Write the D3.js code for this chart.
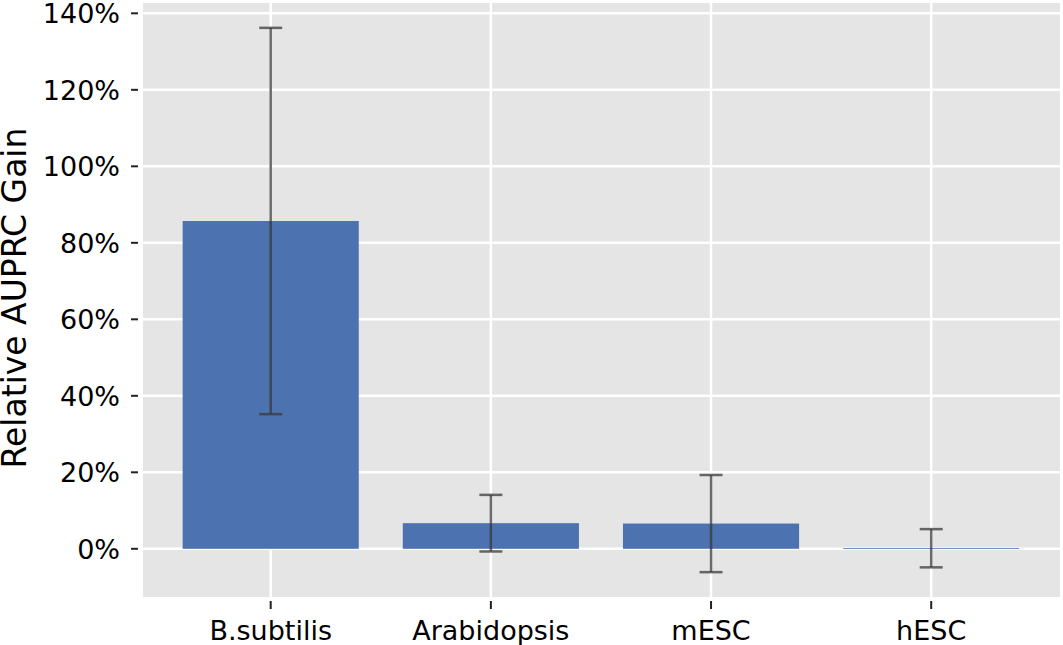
<!DOCTYPE html>
<html>
<head>
<meta charset="utf-8">
<script src="https://cdn.jsdelivr.net/npm/d3@7"></script>
<style>
  html, body { margin: 0; padding: 0; background: #ffffff; }
  svg { display: block; font-family: "DejaVu Sans", sans-serif; }
</style>
</head>
<body>
<svg id="chart" width="1063" height="645"></svg>
<script>
const categories = ["B.subtilis", "Arabidopsis", "mESC", "hESC"];
const gains = [85.7, 6.7, 6.6, 0.15];
const errors = [50.5, 7.4, 12.7, 5.0];
const yTicks = [0, 20, 40, 60, 80, 100, 120, 140];
const yLabel = "Relative AUPRC Gain";

const svg = d3.select("#chart");
const plot = { left: 143, right: 1060, top: 3, bottom: 597 };

const x = d3.scaleLinear().domain([-0.58, 3.585]).range([plot.left, plot.right]);
const y = d3.scaleLinear().domain([-12.6, 142.7]).range([plot.bottom, plot.top]);
const barW = x(0.8) - x(0);

// background
svg.append("rect")
  .attr("x", plot.left).attr("y", plot.top)
  .attr("width", plot.right - plot.left).attr("height", plot.bottom - plot.top)
  .attr("fill", "#e5e5e5");

// grid
const grid = svg.append("g");
grid.selectAll("line.h").data(yTicks).join("line")
  .attr("x1", plot.left).attr("x2", plot.right)
  .attr("y1", d => y(d)).attr("y2", d => y(d))
  .attr("stroke", "#ffffff").attr("stroke-width", 2.5);
grid.selectAll("line.v").data(categories).join("line")
  .attr("x1", (d, i) => x(i)).attr("x2", (d, i) => x(i))
  .attr("y1", plot.top).attr("y2", plot.bottom)
  .attr("stroke", "#ffffff").attr("stroke-width", 2.5);

// bars
svg.append("g").selectAll("rect").data(gains).join("rect")
  .attr("x", (d, i) => x(i) - barW / 2)
  .attr("width", barW)
  .attr("y", d => Math.min(y(d), y(0)))
  .attr("height", d => Math.max(Math.abs(y(0) - y(d)), 0.8))
  .attr("fill", "#4c72b0");

// error bars
const eb = svg.append("g").attr("stroke", "#3a3a3a").attr("stroke-opacity", 0.75).attr("stroke-width", 2.5);
gains.forEach((g, i) => {
  const cx = x(i), top = y(g + errors[i]), bot = y(g - errors[i]);
  eb.append("line").attr("x1", cx).attr("x2", cx).attr("y1", top).attr("y2", bot);
  eb.append("line").attr("x1", cx - 11.5).attr("x2", cx + 11.5).attr("y1", top).attr("y2", top);
  eb.append("line").attr("x1", cx - 11.5).attr("x2", cx + 11.5).attr("y1", bot).attr("y2", bot);
});

// y axis ticks & labels
const yAxis = svg.append("g");
yAxis.selectAll("line").data(yTicks).join("line")
  .attr("x1", 131).attr("x2", 138)
  .attr("y1", d => y(d)).attr("y2", d => y(d))
  .attr("stroke", "#222").attr("stroke-width", 2);
yAxis.selectAll("text").data(yTicks).join("text")
  .attr("x", 120).attr("y", d => y(d)).attr("dy", "0.36em")
  .attr("text-anchor", "end").attr("font-size", 27).attr("fill", "#000")
  .text(d => d + "%");

// x axis ticks & labels
const xAxis = svg.append("g");
xAxis.selectAll("line").data(categories).join("line")
  .attr("x1", (d, i) => x(i)).attr("x2", (d, i) => x(i))
  .attr("y1", 601).attr("y2", 609)
  .attr("stroke", "#222").attr("stroke-width", 2);
xAxis.selectAll("text").data(categories).join("text")
  .attr("x", (d, i) => x(i)).attr("y", 640)
  .attr("text-anchor", "middle").attr("font-size", 27).attr("fill", "#000")
  .text(d => d);

// y label
svg.append("text")
  .attr("transform", "translate(26, 298) rotate(-90)")
  .attr("text-anchor", "middle").attr("font-size", 33).attr("fill", "#000")
  .text(yLabel);
</script>
</body>
</html>
